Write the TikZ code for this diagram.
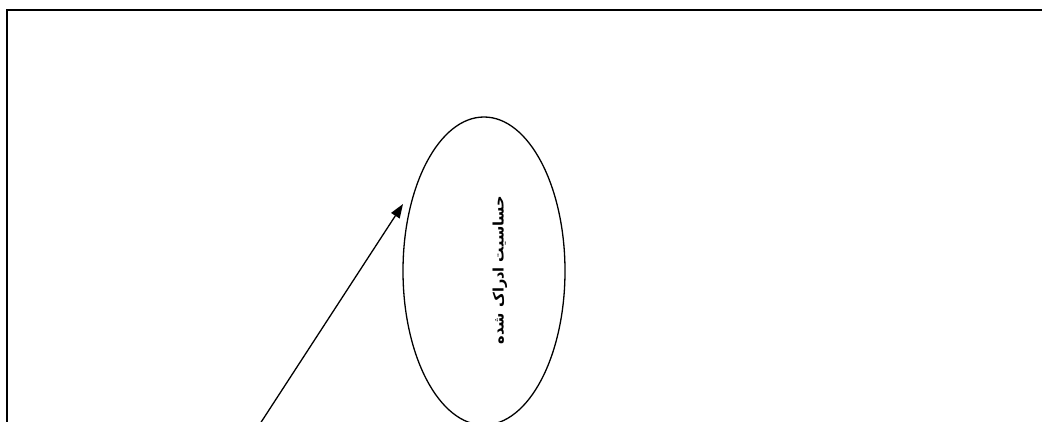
\documentclass[tikz,border=0pt]{standalone}
\usepackage{fontspec}
\usepackage{tikz}
\usetikzlibrary{arrows.meta,shapes.geometric}
\newfontfamily\arabicfont[Script=Arabic]{DejaVu Sans}
\TeXXeTstate=1

\begin{document}
\begin{tikzpicture}[x=1pt,y=-1pt,
  ell/.style={draw,ellipse,line width=1.3pt,minimum width=162pt,minimum height=308pt,inner sep=0pt},
  conn/.style={line width=1.3pt,-{Triangle[length=14pt,width=10pt]}}]
\useasboundingbox (0,0) rectangle (1042,421);
% outer frame (only left and top edges show)
\draw[line width=2pt] (6.5,440) -- (6.5,9.5) -- (1060,9.5);
% perceived sensitivity
\node[ell] (sens) at (484,271) {};
\node (senslbl) at (500,270) {\rotatebox{90}{\arabicfont\bfseries\fontsize{14.5}{16}\selectfont\beginR حساسیت ادراک شده\endR}};
% arrow coming up from below
\coordinate (tail) at (256,430);
\coordinate (tip) at (403,204);
\draw[conn] (tail) -- (tip);
\end{tikzpicture}
\end{document}
